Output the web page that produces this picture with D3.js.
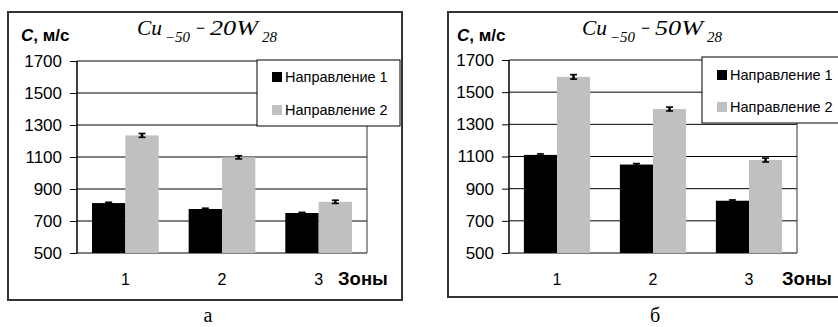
<!DOCTYPE html>
<html>
<head>
<meta charset="utf-8">
<script src="https://cdn.jsdelivr.net/npm/d3@7"></script>
<style>
  html, body { margin: 0; padding: 0; background: #fff; }
  svg { display: block; }
</style>
</head>
<body>
<svg id="chart" width="838" height="327"></svg>
<script>
// Zones and series
const zones = ["1", "2", "3"];
const seriesNames = ["Направление 1", "Направление 2"];
const yTicks = [500, 700, 900, 1100, 1300, 1500, 1700];

// Cu-50 – 20W28: sound velocity, m/s
const valuesA1 = [812, 775, 750];
const valuesA2 = [1235, 1098, 820];
const errorsA1 = [5, 5, 4];
const errorsA2 = [12, 10, 10];

// Cu-50 – 50W28: sound velocity, m/s
const valuesB1 = [1110, 1050, 825];
const valuesB2 = [1595, 1395, 1078];
const errorsB1 = [6, 6, 5];
const errorsB2 = [14, 12, 12];

const colors = ["#000000", "#c0c0c0"];
const sans = "'Liberation Sans', Arial, sans-serif";
const serif = "'Liberation Serif', 'Times New Roman', serif";

const svg = d3.select("#chart");

function drawPanel(cfg) {
  const g = svg.append("g");

  // outer frame
  g.append("rect")
    .attr("x", cfg.frame[0]).attr("y", cfg.frame[1])
    .attr("width", cfg.frame[2]).attr("height", cfg.frame[3])
    .attr("fill", "none").attr("stroke", "#333").attr("stroke-width", 2);

  const x = d3.scaleBand().domain(zones)
    .range([cfg.plot.x0, cfg.plot.x1])
    .paddingInner(0.31).paddingOuter(0.155);
  const xs = d3.scaleBand().domain(seriesNames).range([0, x.bandwidth()]);
  const y = d3.scaleLinear().domain([500, 1700]).range([cfg.plot.y1, cfg.plot.y0]);

  // gridlines
  g.append("g").selectAll("line").data(yTicks).join("line")
    .attr("x1", cfg.plot.x0).attr("x2", cfg.plot.x1)
    .attr("y1", d => y(d)).attr("y2", d => y(d))
    .attr("stroke", "#000").attr("stroke-width", 1);

  // right border of plot area
  g.append("line")
    .attr("x1", cfg.plot.x1).attr("x2", cfg.plot.x1)
    .attr("y1", y(1700)).attr("y2", y(500))
    .attr("stroke", "#333").attr("stroke-width", 1);

  // bars
  const rows = zones.map((z, i) => [
    { zone: z, s: seriesNames[0], v: cfg.v1[i], e: cfg.e1[i], c: colors[0] },
    { zone: z, s: seriesNames[1], v: cfg.v2[i], e: cfg.e2[i], c: colors[1] }
  ]).flat();

  g.append("g").selectAll("rect").data(rows).join("rect")
    .attr("x", d => x(d.zone) + xs(d.s))
    .attr("y", d => y(d.v))
    .attr("width", xs.bandwidth())
    .attr("height", d => y(500) - y(d.v))
    .attr("fill", d => d.c);

  // error bars
  const eb = g.append("g").attr("stroke", "#000").attr("stroke-width", 1.6);
  rows.forEach(d => {
    const cx = x(d.zone) + xs(d.s) + xs.bandwidth() / 2;
    eb.append("line").attr("x1", cx).attr("x2", cx)
      .attr("y1", y(d.v - d.e)).attr("y2", y(d.v + d.e)).attr("stroke-width", 2.5);
    [d.v - d.e, d.v + d.e].forEach(v => {
      eb.append("line").attr("x1", cx - 3.5).attr("x2", cx + 3.5)
        .attr("y1", y(v)).attr("y2", y(v));
    });
  });

  // y axis
  const yAxis = d3.axisLeft(y).tickValues(yTicks).tickSize(7).tickPadding(8)
    .tickFormat(d3.format("d"));
  const ya = g.append("g").attr("transform", `translate(${cfg.plot.x0},0)`).call(yAxis);
  ya.select(".domain").attr("stroke", "#000").attr("stroke-width", 1.5)
    .attr("d", `M0,${y(1700)}V${y(500)}`);
  ya.selectAll(".tick line").attr("stroke", "#000");
  ya.selectAll(".tick text").attr("font-family", sans).attr("font-size", 17).attr("fill", "#000");

  // category labels
  g.append("g").selectAll("text").data(zones).join("text")
    .attr("x", d => x(d) + x.bandwidth() / 2)
    .attr("y", cfg.catY)
    .attr("text-anchor", "middle")
    .attr("font-family", sans).attr("font-size", 16)
    .text(d => d);

  g.append("text").attr("x", cfg.zonesX).attr("y", cfg.catY)
    .attr("font-family", sans).attr("font-size", 18.5).attr("font-weight", "bold")
    .text("Зоны");

  // y unit label
  const yl = g.append("text").attr("x", cfg.unitX).attr("y", 41)
    .attr("font-family", sans).attr("font-size", 17).attr("font-weight", "bold");
  yl.append("tspan").attr("font-style", "italic").text("C");
  yl.append("tspan").text(", м/с");

  // composition title, piece by piece: [text, dx, width, subscript]
  const tx = cfg.titleX;
  const pieces = [
    ["Cu", 0, 25, false],
    ["\u221250", 28, 25, true],
    ["\u2212", 58, 11, false],
    [cfg.wText + "W", 73, 48, false],
    ["28", 125, 15, true]
  ];
  const tg = g.append("g").attr("font-family", serif).attr("font-style", "italic");
  pieces.forEach(([s, dx, w, sub]) => {
    tg.append("text")
      .attr("x", tx + dx).attr("y", sub ? 41.5 : 34.5)
      .attr("font-size", sub ? 14 : 21)
      .attr("textLength", w).attr("lengthAdjust", "spacingAndGlyphs")
      .text(s);
  });

  // legend
  const lg = g.append("g");
  lg.append("rect")
    .attr("x", cfg.legend[0]).attr("y", cfg.legend[1])
    .attr("width", cfg.legend[2]).attr("height", cfg.legend[3])
    .attr("fill", "#fff").attr("stroke", "#000").attr("stroke-width", 1);
  seriesNames.forEach((s, i) => {
    const cy = cfg.legend[1] + cfg.legendRows[i];
    lg.append("rect").attr("x", cfg.legend[0] + cfg.swatchDx).attr("y", cy - 5)
      .attr("width", 10).attr("height", 10).attr("fill", colors[i]);
    lg.append("text").attr("x", cfg.legend[0] + cfg.swatchDx + 13).attr("y", cy + 5)
      .attr("font-family", sans).attr("font-size", 14.5).text(s);
  });

  // panel caption
  svg.append("text").attr("x", cfg.captionX).attr("y", 322)
    .attr("text-anchor", "middle")
    .attr("font-family", serif).attr("font-size", 20)
    .text(cfg.caption);
}

drawPanel({
  frame: [8, 12, 394, 288],
  plot: { x0: 77, x1: 367, y0: 61, y1: 253 },
  v1: valuesA1, v2: valuesA2, e1: errorsA1, e2: errorsA2,
  catY: 285, zonesX: 338, unitX: 21, titleX: 137, wText: "20",
  legend: [257, 60, 143, 66], legendRows: [17, 50], swatchDx: 15,
  captionX: 208, caption: "а"
});

drawPanel({
  frame: [448, 12, 400, 285],
  plot: { x0: 509, x1: 797, y0: 60, y1: 253 },
  v1: valuesB1, v2: valuesB2, e1: errorsB1, e2: errorsB2,
  catY: 285, zonesX: 782, unitX: 457, titleX: 582, wText: "50",
  legend: [702, 57, 150, 66], legendRows: [18, 50], swatchDx: 15,
  captionX: 655, caption: "б"
});
</script>
</body>
</html>
